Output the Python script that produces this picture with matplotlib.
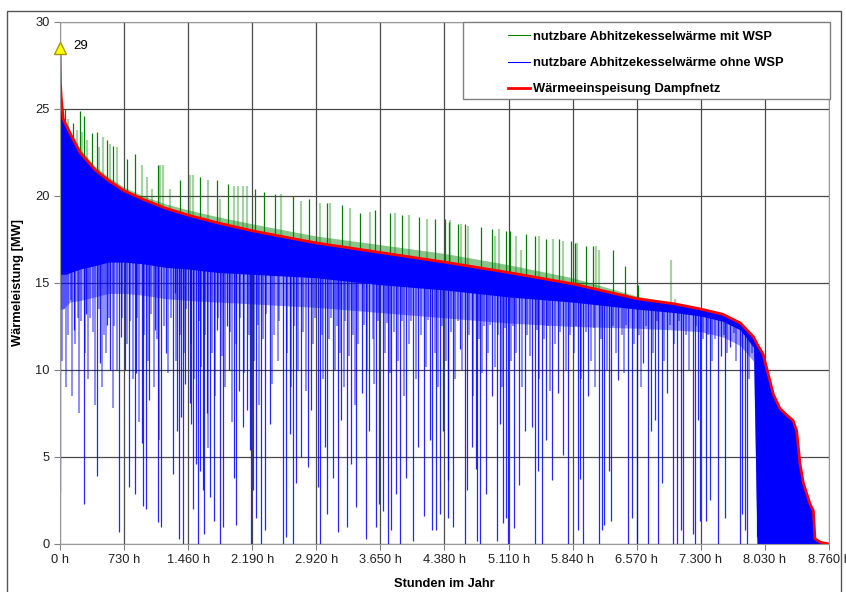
import numpy as np
import matplotlib
matplotlib.use("Agg")
import matplotlib.pyplot as plt
from matplotlib.lines import Line2D
from matplotlib.patches import Rectangle

plt.rcParams['font.family'] = ['Liberation Sans', 'DejaVu Sans']

# --- data ---
# Wärmeeinspeisung Dampfnetz (sorted duration curve) in MW
red_hours = [0, 5, 15, 38, 76, 114, 228, 400, 550, 730, 950, 1200, 1460, 1800, 2190, 2550,
             2920, 3650, 4380, 5110, 5840, 6570, 7000, 7300, 7550, 7750, 7900, 7940, 8010,
             8126, 8200, 8280, 8350, 8392, 8430, 8468, 8544, 8582, 8600, 8660, 8760]
red_mw = [28.5, 26.5, 25.6, 24.4, 24.0, 23.6, 22.5, 21.5, 20.9, 20.3, 19.8, 19.3, 18.9, 18.45,
          18.0, 17.65, 17.3, 16.75, 16.2, 15.6, 14.95, 14.1, 13.8, 13.5, 13.2, 12.7, 11.9, 11.5,
          10.9, 8.6, 7.8, 7.4, 7.1, 6.5, 4.6, 3.5, 2.3, 1.9, 0.3, 0.1, 0.0]

# ohne WSP: upper edge and lower edges of the dense blue band (same hours as red)
ohne_top = [25.0, 25.0, 25.0, 24.4, 24.0, 23.6, 22.5, 21.5, 20.9, 20.3, 19.8, 19.3, 18.9, 18.45,
            18.0, 17.65, 17.3, 16.75, 16.2, 15.6, 14.95, 14.1, 13.8, 13.5, 13.2, 12.7, 11.9, 11.5,
            10.9, 8.6, 7.8, 7.4, 7.1, 6.5, 4.6, 3.5, 2.3, 1.9, 0.3, 0.1, 0.0]
ohne_dense_low = [15.5, 15.5, 15.5, 15.5, 15.5, 15.6, 15.8, 16.0, 16.2, 16.2, 16.1, 15.9, 15.8,
                  15.6, 15.5, 15.4, 15.3, 14.9, 14.6, 14.2, 13.9, 13.5, 13.3, 13.1, 12.8, 12.3,
                  11.3, 0.0, 0.0, 0.0, 0.0, 0.0, 0.0, 0.0, 0.0, 0.0, 0.0, 0.0, 0.0, 0.0, 0.0]
ohne_faint_low = [13.5, 13.5, 13.5, 13.5, 13.7, 13.9, 14.0, 14.2, 14.4, 14.4, 14.3, 14.1, 14.0,
                  13.9, 13.8, 13.7, 13.6, 13.3, 13.0, 12.7, 12.5, 12.4, 12.3, 12.2, 11.9, 11.4,
                  10.5, 0.0, 0.0, 0.0, 0.0, 0.0, 0.0, 0.0, 0.0, 0.0, 0.0, 0.0, 0.0, 0.0, 0.0]

# mit WSP: short dense green fringe above the red curve (same hours as red)
mit_fringe_top = [28.5, 26.5, 25.6, 24.5, 24.2, 23.8, 22.7, 21.7, 21.1, 20.5, 20.0, 19.55, 19.2,
                  18.8, 18.4, 18.05, 17.7, 17.2, 16.7, 16.05, 15.3, 14.25, 13.8, 13.5, 13.2, 12.7,
                  11.9, 11.5, 10.9, 8.6, 7.8, 7.4, 7.1, 6.5, 4.6, 3.5, 2.3, 1.9, 0.3, 0.1, 0.0]

# deep downward spikes of "ohne WSP" (hour, lowest MW)
ohne_dip_hours = [5, 154, 269, 300, 422, 460, 535, 575, 672, 691, 737, 787, 852, 864, 933, 948,
                  979, 1018, 1087, 1114, 1152, 1210, 1286, 1306, 1336, 1352, 1383, 1402, 1421,
                  1478, 1498, 1517, 1555, 1574, 1593, 1632, 1643, 1670, 1709, 1755, 1786, 1824,
                  1855, 1901, 1920, 1978, 2008, 2035, 2085, 2131, 2162, 2177,
                  2198, 2228, 2293, 2331, 2388, 2540, 2570, 2616, 2654, 2692, 2740, 2825, 2862,
                  2939, 2958, 3015, 3042, 3110, 3167, 3205, 3269, 3319, 3376, 3440, 3482, 3520,
                  3604, 3630, 3680, 3737, 3775, 3832, 3870, 3946, 4022, 4080, 4143, 4212, 4242,
                  4288, 4326, 4364, 4421,
                  4423, 4480, 4556, 4613, 4632, 4689, 4735, 4754, 4784, 4849, 4917, 4974, 5012,
                  5050, 5077, 5099, 5175, 5229, 5297, 5381, 5411, 5441, 5487, 5536, 5601, 5677,
                  5734, 5791, 5897, 5924, 5962, 6019, 6141, 6179, 6201, 6255, 6277, 6361, 6475,
                  6513, 6570, 6646,
                  6701, 6731, 6777, 6815, 6853, 6910, 6986, 7024, 7070, 7100, 7206, 7233, 7271,
                  7290, 7355, 7404, 7499, 7529, 7575, 7632, 7746, 7765, 7803, 7822, 7936]
ohne_dip_mw = [3.0, 12.3, 2.3, 13.2, 3.9, 10.4, 12.6, 10.0, 0.7, 11.9, 10.0, 3.3, 2.9, 9.8, 5.8,
               2.2, 2.0, 8.3, 12.3, 1.25, 1.0, 11.0, 4.0, 14.4, 6.5, 0.3, 7.3, 0.0, 9.2, 8.1, 6.9,
               2.0, 4.6, 0.0, 4.2, 3.1, 0.6, 7.5, 2.7, 1.3, 12.3, 0.0, 1.0, 12.5, 10.0, 3.8, 1.1,
               8.8, 6.7, 7.7, 5.4, 0.0,
               3.1, 1.5, 0.0, 0.8, 6.9, 0.0, 0.4, 6.3, 0.0, 3.5, 5.0, 4.4, 7.7, 3.3, 0.0, 5.6,
               1.7, 3.8, 0.7, 7.1, 1.0, 4.6, 2.1, 8.7, 0.3, 6.5, 1.0, 2.3, 1.9, 0.0, 0.8, 2.9,
               0.0, 3.8, 0.2, 5.6, 1.6, 6.0, 0.8, 0.8, 1.7, 6.5, 3.7,
               1.5, 1.0, 11.2, 0.0, 3.1, 5.6, 4.3, 0.2, 0.0, 2.9, 8.5, 0.2, 6.9, 1.2, 1.5, 0.0,
               0.9, 3.4, 6.5, 6.7, 0.0, 4.2, 0.0, 6.0, 3.7, 8.7, 5.1, 0.0, 0.8, 3.75, 0.0, 8.5,
               0.0, 0.8, 1.1, 4.2, 1.3, 9.4, 0.0, 1.5, 0.0, 10.4,
               0.0, 6.5, 7.1, 0.0, 3.5, 8.7, 0.0, 0.0, 0.8, 0.0, 0.6, 0.0, 7.1, 1.3, 1.3, 2.5,
               0.0, 10.8, 1.5, 11.3, 0.0, 1.7, 0.8, 0.0, 0.4]

# shorter, paler downward spikes of "ohne WSP" (hour, lowest MW)
ohne_short_hours = [20, 45, 70, 95, 120, 140, 175, 200, 215, 245, 290, 320, 345, 380, 400, 440,
                    480, 500, 520, 560, 600, 620, 650, 710,
                    760, 800, 830, 880, 900, 960, 1000, 1040, 1070, 1100, 1130, 1180, 1230, 1260,
                    1320, 1370, 1410, 1440,
                    1490, 1530, 1580, 1610, 1655, 1690, 1730, 1770, 1800, 1840, 1880, 1940, 1960,
                    2000, 2050, 2100, 2150,
                    2210, 2250, 2270, 2310, 2350, 2410, 2440, 2480, 2500, 2590, 2630, 2670, 2710,
                    2770, 2800, 2880, 2900,
                    2980, 3000, 3060, 3090, 3130, 3150, 3190, 3230, 3250, 3290, 3340, 3360, 3400,
                    3460, 3500, 3560, 3580, 3620,
                    3700, 3720, 3760, 3800, 3850, 3900, 3920, 3980, 4000, 4050, 4110, 4170, 4190,
                    4270, 4310, 4350, 4400,
                    4450, 4500, 4530, 4580, 4660, 4700, 4770, 4810, 4830, 4880, 4900, 4950, 4990,
                    5030, 5070,
                    5140, 5160, 5200, 5260, 5320, 5350, 5430, 5460, 5510, 5560, 5580, 5640, 5700,
                    5760, 5810,
                    5860, 5880, 5940, 5990, 6050, 6080, 6100, 6160, 6230, 6300, 6330, 6400, 6430,
                    6450, 6540,
                    6600, 6620, 6680, 6750, 6800, 6880, 6950, 7000, 7050, 7130, 7170, 7250, 7320,
                    7380, 7430, 7460, 7560, 7600, 7680, 7700, 7850, 7880]
ohne_short_mw = [10.5, 13.5, 9.0, 12.0, 14.0, 8.5, 11.5, 13.0, 7.5, 12.8, 11.0, 9.5, 13.0, 12.2,
                 8.0, 13.5, 9.0, 12.0, 11.0, 13.0, 7.8, 12.5, 10.0, 13.0,
                 11.5, 12.8, 9.5, 13.0, 7.0, 12.0, 10.5, 13.2, 9.0, 11.8, 6.0, 12.5, 9.8, 13.0,
                 10.5, 12.0, 11.0, 13.5,
                 11.5, 9.5, 12.8, 10.2, 12.0, 5.5, 11.0, 8.5, 13.0, 10.8, 9.0, 12.2, 7.0, 11.5,
                 13.0, 9.8, 12.0,
                 10.5, 12.6, 8.0, 11.8, 13.2, 9.2, 12.0, 10.5, 12.8, 11.0, 9.0, 12.5, 10.0, 12.2,
                 8.8, 11.5, 13.0,
                 12.0, 9.5, 11.8, 13.0, 10.0, 12.5, 11.0, 9.0, 12.8, 10.8, 12.0, 8.0, 11.5, 12.6,
                 10.0, 11.8, 9.2, 12.8,
                 11.0, 12.7, 9.8, 12.2, 10.5, 12.8, 8.5, 11.5, 12.8, 9.5, 12.0, 10.2, 12.9, 11.0,
                 9.0, 12.5, 10.5,
                 12.2, 9.5, 12.8, 10.0, 12.0, 8.5, 11.8, 9.8, 12.5, 11.0, 12.6, 10.2, 12.0, 9.0,
                 12.4,
                 10.5, 12.5, 11.0, 9.0, 12.0, 10.8, 12.3, 9.5, 11.8, 12.5, 8.8, 11.5, 12.2, 10.0,
                 12.0,
                 11.0, 12.5, 9.5, 12.2, 10.5, 12.4, 9.0, 11.8, 10.0, 12.5, 11.0, 12.0, 9.8, 12.6,
                 11.5,
                 12.0, 9.0, 12.5, 11.0, 12.8, 10.5, 12.6, 11.5, 12.8, 12.0, 10.0, 12.5, 11.8,
                 12.0, 10.5, 11.8, 12.0, 11.0, 12.1, 10.5, 9.5, 11.0]

# upward spikes of "mit WSP" (hour, top MW)
mit_peak_hours = [57, 152, 228, 277, 361, 418, 532, 608, 768, 855, 1113, 1368, 1596, 1786, 1919,
                  2223, 2329, 2451, 2660, 2831, 3040, 3211, 3420, 3583, 3762, 3895, 4085, 4275,
                  4389, 4437, 4532, 4608, 4798, 4923, 5075, 5129, 5303, 5406, 5531, 5680, 5824,
                  5862, 5995, 6071, 6299, 6440, 6584]
mit_peak_mw = [25.0, 24.2, 24.9, 24.6, 23.6, 23.7, 23.2, 22.9, 22.1, 22.4, 21.8, 20.9, 21.1,
               20.9, 20.7, 20.4, 20.2, 20.1, 20.0, 19.8, 19.6, 19.5, 19.0, 19.2, 19.0, 18.9,
               18.8, 18.7, 18.65, 18.5, 18.4, 18.4, 18.2, 18.1, 18.0, 18.0, 17.8, 17.7, 17.5,
               17.5, 17.4, 17.3, 17.1, 17.1, 16.9, 16.0, 14.9]
mit_faint_hours = [95, 190, 247, 312, 446, 490, 570, 646, 939, 988, 1052, 1140, 1170, 1254, 1482,
                   1520, 1683, 1824, 1980, 2030, 2080, 2130, 2520, 2748, 2964, 3078, 3306, 3534,
                   3819, 3971, 4180, 4446, 4570, 4646, 4960, 5000, 5190, 5255, 5460, 5615, 5730,
                   5890, 6110, 6135, 6964, 7010]
mit_faint_mw = [24.4, 23.8, 23.7, 23.2, 22.8, 23.4, 23.0, 22.8, 21.8, 21.1, 20.4, 21.8, 21.8,
                20.4, 21.2, 21.2, 20.9, 19.8, 20.6, 20.6, 20.6, 20.6, 20.1, 19.7, 19.6, 19.6,
                19.3, 19.1, 19.0, 18.9, 18.7, 18.6, 18.4, 18.3, 17.7, 18.1, 17.7, 16.9, 17.7,
                17.5, 17.4, 17.3, 17.1, 16.9, 16.3, 14.1]

max_label = "29"
xtick_hours = list(range(0, 8761, 730))
ytick_mw = [0, 5, 10, 15, 20, 25, 30]

# --- plot ---
fig = plt.figure(figsize=(8.46, 5.92), dpi=100)
ax = fig.add_axes([0.0709, 0.0811, 0.9090, 0.8818])

ax.set_axisbelow(True)
ax.grid(True, color='#4a4a4a', linewidth=0.9)

# green (mit WSP)
ax.fill_between(red_hours, red_mw, mit_fringe_top, color='#008000', alpha=0.45, lw=0)
ax.vlines(mit_faint_hours, np.interp(mit_faint_hours, red_hours, red_mw), mit_faint_mw,
          color='#008000', alpha=0.35, linewidth=1.6)
ax.vlines(mit_peak_hours, np.interp(mit_peak_hours, red_hours, red_mw), mit_peak_mw,
          color='#008000', linewidth=0.9)

# blue (ohne WSP)
ax.fill_between(red_hours, ohne_faint_low, ohne_top, color='#0000ff', alpha=0.4, lw=0)
ax.vlines(ohne_short_hours, ohne_short_mw, np.interp(ohne_short_hours, red_hours, ohne_top),
          color='#0000ff', alpha=0.45, linewidth=1.4)
ax.fill_between(red_hours, ohne_dense_low, ohne_top, color='#0000ff', lw=0)
ax.vlines(ohne_dip_hours, ohne_dip_mw, np.interp(ohne_dip_hours, red_hours, ohne_top),
          color='#0000ff', alpha=0.85, linewidth=0.9)

# red (Wärmeeinspeisung)
ax.plot(red_hours, red_mw, color='#ff0000', linewidth=2)

ax.plot([0], [28.5], marker='^', markersize=9, markerfacecolor='#ffff00',
        markeredgecolor='#a09a00', clip_on=False, zorder=5)
ax.text(150, 28.6, max_label, fontsize=9.5, va='center', ha='left')

ax.set_xlim(0, 8760)
ax.set_ylim(0, 30)
ax.set_xticks(xtick_hours)
ax.set_xticklabels([f"{h:,} h".replace(',', '.') for h in xtick_hours])
ax.set_yticks(ytick_mw)
ax.tick_params(labelsize=9.3, length=4, color='#808080', labelcolor='#222222')
for s in ax.spines.values():
    s.set_color('#9a9a9a')

ax.set_xlabel('Stunden im Jahr', fontsize=9.3, fontweight='bold', labelpad=8)
ax.set_ylabel('Wärmeleistung [MW]', fontsize=9.3, fontweight='bold', labelpad=8)

# legend frame + legend
ax.add_patch(Rectangle((0.524, 0.8525), 0.477, 0.1475, transform=ax.transAxes,
                       facecolor='white', edgecolor='#808080', linewidth=1, zorder=6,
                       clip_on=False))
handles = [Line2D([], [], color='#008000', linewidth=0.8),
           Line2D([], [], color='#0000ff', linewidth=0.8),
           Line2D([], [], color='#ff0000', linewidth=2)]
labels = ['nutzbare Abhitzekesselwärme mit WSP',
          'nutzbare Abhitzekesselwärme ohne WSP',
          'Wärmeeinspeisung Dampfnetz']
leg = ax.legend(handles, labels, loc='upper left', bbox_to_anchor=(0.571, 1.0),
                frameon=False, prop={'size': 9.3, 'weight': 'bold'}, handlelength=1.75,
                handletextpad=0.2, labelspacing=1.1, borderpad=0.68, borderaxespad=0)
leg.set_zorder(7)

# outer frame
fig.patches.append(Rectangle((7 / 846, -0.02), 834 / 846, 0.02 + 1 - 11 / 592,
                             transform=fig.transFigure, fill=False,
                             edgecolor='#555555', linewidth=1))

fig.savefig('out.png', dpi=100)
